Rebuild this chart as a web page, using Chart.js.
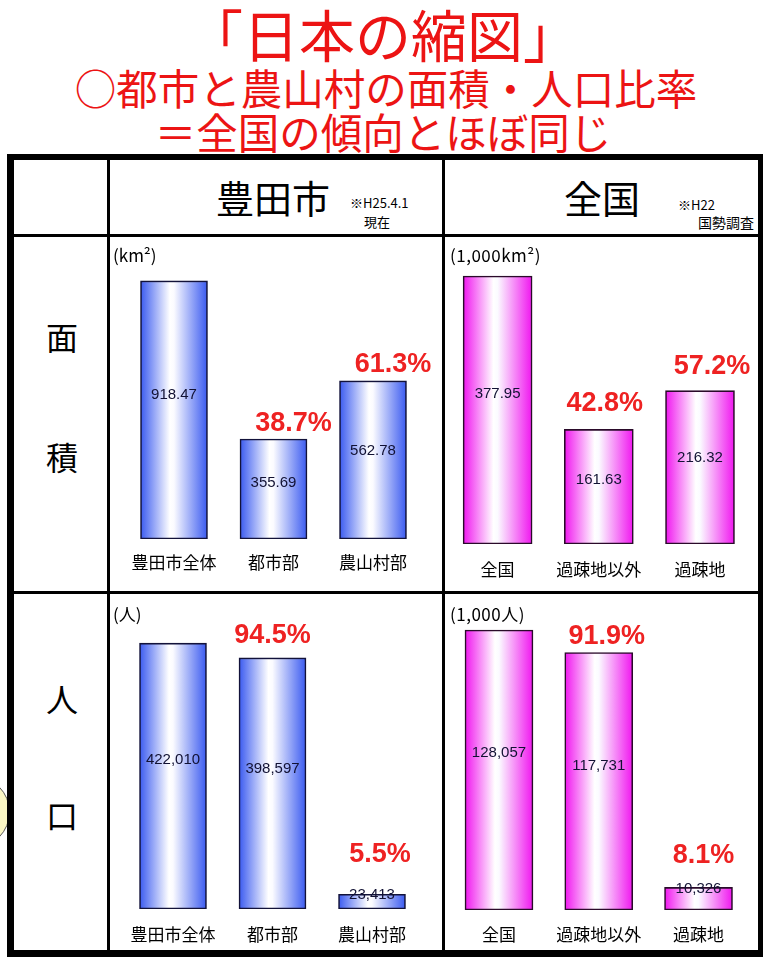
<!DOCTYPE html>
<html><head><meta charset="utf-8">
<script src="https://cdn.jsdelivr.net/npm/chart.js@4"></script>
<style>
html,body{margin:0;padding:0;background:#fff;}
body{width:766px;height:957px;position:relative;overflow:hidden;font-family:"Noto Sans CJK JP",sans-serif;}
.t{position:absolute;left:0;width:766px;text-align:center;color:#ec1414;line-height:1;white-space:nowrap;}
.tx{position:absolute;line-height:1;white-space:nowrap;color:#000;}
.ln{position:absolute;background:#000;z-index:5;}
canvas{position:absolute;display:block;}
</style></head><body>
<div class="t" style="top:5px;font-size:56px;">「日本の縮図」</div>
<div class="t" style="top:67px;font-size:41.5px;left:3px;">○都市と農山村の面積・人口比率</div>
<div class="t" style="top:111px;font-size:41.5px;">＝全国の傾向とほぼ同じ</div>

<div style="position:absolute;left:-62px;top:776px;width:70px;height:70px;border-radius:50%;background:#faf6c4;border:1.5px solid #555;"></div>

<div class="tx" style="left:216px;top:178px;font-size:38px;">豊田市</div>
<div class="tx" style="left:350px;top:196px;font-size:13px;">※H25.4.1</div>
<div class="tx" style="left:364px;top:215px;font-size:13px;">現在</div>
<div class="tx" style="left:564px;top:178px;font-size:38px;">全国</div>
<div class="tx" style="left:678px;top:198px;font-size:13px;">※H22</div>
<div class="tx" style="left:698px;top:215px;font-size:14px;">国勢調査</div>

<div class="tx" style="left:46px;top:320px;font-size:32px;">面</div>
<div class="tx" style="left:46px;top:440px;font-size:32px;">積</div>
<div class="tx" style="left:46px;top:682px;font-size:32px;">人</div>
<div class="tx" style="left:46px;top:798px;font-size:32px;">口</div>

<canvas id="cTA" width="328" height="352" style="left:112px;top:238px;"></canvas>
<canvas id="cNA" width="311" height="352" style="left:446px;top:238px;"></canvas>
<canvas id="cTP" width="328" height="354" style="left:112px;top:595px;"></canvas>
<canvas id="cNP" width="311" height="354" style="left:446px;top:595px;"></canvas>

<div class="tx" style="left:113px;top:246px;font-size:17px;">(km²)</div>
<div class="tx" style="left:450px;top:246px;font-size:17px;letter-spacing:0.5px;">(1,000km²)</div>
<div class="tx" style="left:113px;top:605px;font-size:17px;">(人)</div>
<div class="tx" style="left:450px;top:605px;font-size:17px;letter-spacing:0.5px;">(1,000人)</div>

<div class="ln" style="left:7px;top:154px;width:756px;height:6px;"></div>
<div class="ln" style="left:7px;top:154px;width:7px;height:803px;"></div>
<div class="ln" style="left:758px;top:154px;width:5px;height:803px;"></div>
<div class="ln" style="left:7px;top:950px;width:756px;height:7px;"></div>
<div class="ln" style="left:107px;top:154px;width:3px;height:796px;"></div>
<div class="ln" style="left:442px;top:154px;width:3px;height:796px;"></div>
<div class="ln" style="left:7px;top:234px;width:756px;height:3px;"></div>
<div class="ln" style="left:7px;top:591px;width:756px;height:3px;"></div>

<script>
// ---- data ----
const toyotaCategories = ['豊田市全体', '都市部', '農山村部'];
const nationalCategories = ['全国', '過疎地以外', '過疎地'];

const toyotaArea = [918.47, 355.69, 562.78];          // km²
const toyotaAreaShare = [null, 38.7, 61.3];            // %
const nationalArea = [377.95, 161.63, 216.32];         // 1,000 km²
const nationalAreaShare = [null, 42.8, 57.2];

const toyotaPopulation = [422010, 398597, 23413];      // persons
const toyotaPopulationShare = [null, 94.5, 5.5];
const nationalPopulation = [128057, 117731, 10326];    // 1,000 persons
const nationalPopulationShare = [null, 91.9, 8.1];

// ---- helpers ----
const fmtArea = v => v.toFixed(2);
const fmtPop = v => v.toLocaleString('en-US');
const CJK = "'Noto Sans CJK JP', sans-serif";

function makeGradient(ctx, cx, w, edge) {
  const g = ctx.createLinearGradient(cx - w / 2, 0, cx + w / 2, 0);
  g.addColorStop(0, edge);
  g.addColorStop(0.44, '#ffffff');
  g.addColorStop(0.5, '#fbfbff');
  g.addColorStop(1, edge);
  return g;
}

const barGradient = {
  id: 'barGradient',
  beforeDatasetsDraw(chart, args, opts) {
    const meta = chart.getDatasetMeta(0);
    meta.data.forEach(el => {
      if (!isFinite(el.x) || !isFinite(el.width)) return;
      try {
        el.options.backgroundColor = makeGradient(chart.ctx, el.x, el.width, opts.edge);
      } catch (e) {}
    });
  }
};

const barLabels = {
  id: 'barLabels',
  afterDatasetsDraw(chart, args, opts) {
    const ctx = chart.ctx;
    const meta = chart.getDatasetMeta(0);
    const vals = chart.data.datasets[0].data;
    ctx.save();
    meta.data.forEach((el, i) => {
      const h = el.base - el.y;
      const vy = h < 40 ? el.y + 1 : el.y + h * 0.44;
      ctx.font = "15px 'Liberation Sans', Arial, sans-serif";
      ctx.fillStyle = '#111133';
      ctx.textAlign = 'center';
      ctx.textBaseline = 'middle';
      ctx.fillText(opts.fmt(vals[i]), el.x, vy);
      const s = opts.shares[i];
      if (s != null) {
        const off = opts.offsets[i];
        ctx.font = "bold 27px 'Liberation Sans', Arial, sans-serif";
        ctx.fillStyle = '#ee2222';
        ctx.fillText(s.toFixed(1) + '%', el.x + off[0], el.y + off[1]);
      }
    });
    ctx.restore();
  }
};

function makeChart(id, cfg) {
  const edge = cfg.edge;
  return new Chart(document.getElementById(id), {
    type: 'bar',
    data: {
      labels: cfg.labels,
      datasets: [{
        data: cfg.values,
        barThickness: cfg.barW,
        borderColor: cfg.border,
        borderWidth: 1.6,
        borderSkipped: false,
        backgroundColor: (c) => {
          const xs = c.chart.scales && c.chart.scales.x;
          if (!xs || c.dataIndex === undefined) return edge;
          const cx = xs.getPixelForValue(c.dataIndex);
          if (!isFinite(cx)) return edge;
          return makeGradient(c.chart.ctx, cx, cfg.barW, edge);
        }
      }]
    },
    options: {
      responsive: false,
      animation: false,
      layout: { padding: { left: cfg.padL, right: cfg.padR, top: cfg.padT, bottom: 0 } },
      plugins: {
        legend: { display: false },
        tooltip: { enabled: false },
        barGradient: { edge: edge },
        barLabels: { fmt: cfg.fmt, shares: cfg.shares, offsets: cfg.offsets }
      },
      scales: {
        x: {
          grid: { display: false, drawTicks: false },
          border: { display: false },
          ticks: { color: '#000', font: { family: CJK, size: 17 }, padding: cfg.tickPad, maxRotation: 0, autoSkip: false },
          afterFit: s => { s.height = cfg.axisH; }
        },
        y: { display: false, min: 0, max: cfg.yMax }
      }
    },
    plugins: [barGradient, barLabels]
  });
}

const BLUE = '#3a5af0', MAGENTA = '#f016ef';

makeChart('cTA', {
  labels: toyotaCategories, values: toyotaArea, shares: toyotaAreaShare, fmt: fmtArea,
  edge: BLUE, border: '#12123a', barW: 67, yMax: 1000,
  padL: 12.25, padR: 17.25, padT: 20, axisH: 51, tickPad: 13.8,
  offsets: [null, [20, -16], [20, -16]]
});
makeChart('cNA', {
  labels: nationalCategories, values: nationalArea, shares: nationalAreaShare, fmt: fmtArea,
  edge: MAGENTA, border: '#2a0a2a', barW: 69, yMax: 400,
  padL: 1, padR: 6.4, padT: 22.4, axisH: 46, tickPad: 15.8,
  offsets: [null, [6, -26], [12, -24]]
});
makeChart('cTP', {
  labels: toyotaCategories, values: toyotaPopulation, shares: toyotaPopulationShare, fmt: fmtPop,
  edge: BLUE, border: '#12123a', barW: 67, yMax: 450000,
  padL: 11.25, padR: 18.25, padT: 30.5, axisH: 40, tickPad: 15.8,
  offsets: [null, [0, -22], [8, -40]]
});
makeChart('cNP', {
  labels: nationalCategories, values: nationalPopulation, shares: nationalPopulationShare, fmt: fmtPop,
  edge: MAGENTA, border: '#2a0a2a', barW: 68, yMax: 135000,
  padL: 3.1, padR: 8.6, padT: 19.8, axisH: 39, tickPad: 14.8,
  offsets: [null, [8, -16], [5, -32]]
});
</script>
</body></html>
